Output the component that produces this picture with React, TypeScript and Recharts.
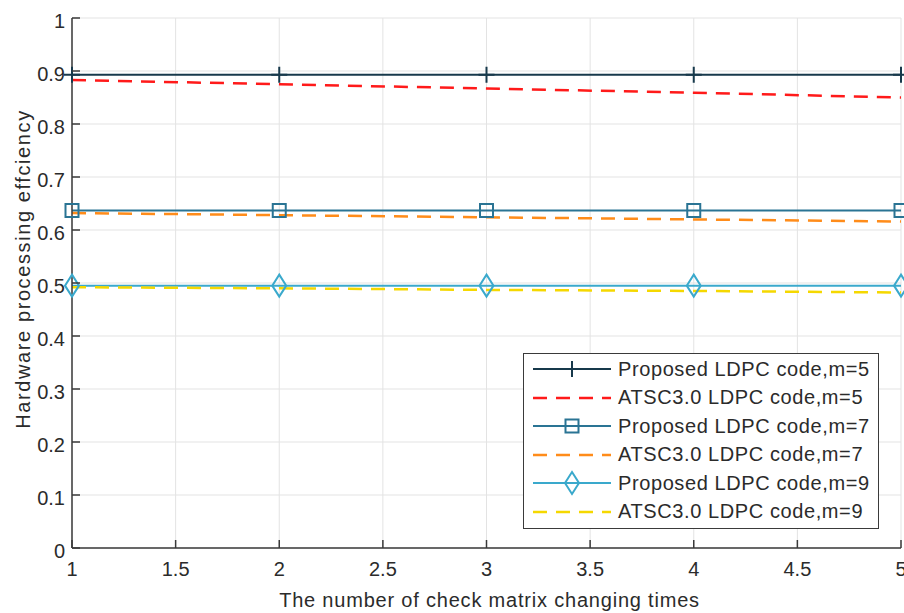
import { LineChart, Line, XAxis, YAxis, CartesianGrid, Legend } from 'recharts';

const xs = [1, 2, 3, 4, 5];
const proposedM5 = [0.893, 0.893, 0.893, 0.893, 0.893];
const atscM5 = [0.883, 0.875, 0.867, 0.859, 0.85];
const proposedM7 = [0.637, 0.637, 0.637, 0.637, 0.637];
const atscM7 = [0.632, 0.628, 0.624, 0.62, 0.616];
const proposedM9 = [0.495, 0.495, 0.495, 0.495, 0.495];
const atscM9 = [0.492, 0.49, 0.487, 0.485, 0.482];

const xTicks = [1, 1.5, 2, 2.5, 3, 3.5, 4, 4.5, 5];
const yTicks = [0, 0.1, 0.2, 0.3, 0.4, 0.5, 0.6, 0.7, 0.8, 0.9, 1];

const data = xs.map((x, i) => ({
  x,
  p5: proposedM5[i],
  a5: atscM5[i],
  p7: proposedM7[i],
  a7: atscM7[i],
  p9: proposedM9[i],
  a9: atscM9[i],
}));

const FONT = '"Liberation Sans", Arial, sans-serif';
const TEXT = '#2b2b2b';
const FRAME = '#3a3a3a';

const C_P5 = '#17394b';
const C_P7 = '#2a7494';
const C_P9 = '#3aa9cc';
const C_A5 = '#ff1a1a';
const C_A7 = '#ff8c1a';
const C_A9 = '#f5d800';

type Marker = 'plus' | 'square' | 'diamond' | 'none';

function markerPath(kind: Marker, cx: number, cy: number) {
  if (kind === 'plus') return `M${cx},${cy - 8}V${cy + 8}M${cx - 8},${cy}H${cx + 8}`;
  if (kind === 'square') return `M${cx - 6.5},${cy - 6.5}h13v13h-13Z`;
  if (kind === 'diamond') return `M${cx},${cy - 11}L${cx + 7},${cy}L${cx},${cy + 11}L${cx - 7},${cy}Z`;
  return '';
}

function dotFor(kind: Marker, color: string) {
  return (props: any) => (
    <path
      key={`${kind}-${props.index}`}
      d={markerPath(kind, props.cx, props.cy)}
      fill="none"
      stroke={color}
      strokeWidth={2}
    />
  );
}

const XTickBottom = (props: any) => {
  const { x, y, payload } = props;
  return (
    <g>
      <line x1={x} y1={y} x2={x} y2={y - 8} stroke={FRAME} strokeWidth={1.5} />
      <text x={x} y={y + 28} textAnchor="middle" fontSize={20} fill={TEXT} fontFamily={FONT}>
        {payload.value}
      </text>
    </g>
  );
};

const XTickTop = (props: any) => {
  const { x, y } = props;
  return <line x1={x} y1={y} x2={x} y2={y + 8} stroke={FRAME} strokeWidth={1.5} />;
};

const YTickLeft = (props: any) => {
  const { x, y, payload } = props;
  return (
    <g>
      <line x1={x} y1={y} x2={x + 8} y2={y} stroke={FRAME} strokeWidth={1.5} />
      <text x={x - 7} y={y + 10} textAnchor="end" fontSize={20} fill={TEXT} fontFamily={FONT}>
        {payload.value}
      </text>
    </g>
  );
};

const YTickRight = (props: any) => {
  const { x, y } = props;
  return <line x1={x} y1={y} x2={x - 8} y2={y} stroke={FRAME} strokeWidth={1.5} />;
};

const legendItems: { label: string; color: string; dashed: boolean; marker: Marker }[] = [
  { label: 'Proposed LDPC code,m=5', color: C_P5, dashed: false, marker: 'plus' },
  { label: 'ATSC3.0 LDPC code,m=5', color: C_A5, dashed: true, marker: 'none' },
  { label: 'Proposed LDPC code,m=7', color: C_P7, dashed: false, marker: 'square' },
  { label: 'ATSC3.0 LDPC code,m=7', color: C_A7, dashed: true, marker: 'none' },
  { label: 'Proposed LDPC code,m=9', color: C_P9, dashed: false, marker: 'diamond' },
  { label: 'ATSC3.0 LDPC code,m=9', color: C_A9, dashed: true, marker: 'none' },
];

const LegendBox = () => (
  <div
    style={{
      width: 354,
      height: 173,
      border: `1.5px solid ${FRAME}`,
      background: '#fff',
      boxSizing: 'content-box',
      paddingTop: 1,
    }}
  >
    {legendItems.map((it) => (
      <div key={it.label} style={{ display: 'flex', alignItems: 'center', height: 28.5 }}>
        <svg width={94} height={28} style={{ flex: 'none' }}>
          <line
            x1={9}
            y1={14}
            x2={87}
            y2={14}
            stroke={it.color}
            strokeWidth={it.dashed ? 2.5 : 2}
            strokeDasharray={it.dashed ? '14 9' : undefined}
          />
          {it.marker !== 'none' && (
            <path d={markerPath(it.marker, 48, 14)} fill="none" stroke={it.color} strokeWidth={2} />
          )}
        </svg>
        <span
          style={{ fontFamily: FONT, fontSize: 20, letterSpacing: 0.6, color: TEXT, whiteSpace: 'nowrap' }}
        >
          {it.label}
        </span>
      </div>
    ))}
  </div>
);

export default function App() {
  return (
    <div style={{ position: 'absolute', left: 0, top: 0, background: '#fff' }}>
      <LineChart width={904} height={613} data={data} margin={{ top: 18, right: 3, bottom: 0, left: 10 }}>
        <CartesianGrid stroke="#e3e3e3" strokeWidth={1} />
        <XAxis
          dataKey="x"
          type="number"
          domain={[1, 5]}
          ticks={xTicks}
          height={65}
          tickSize={0}
          tickMargin={0}
          tickLine={false}
          axisLine={{ stroke: FRAME, strokeWidth: 1.5 }}
          tick={<XTickBottom />}
          interval={0}
          label={{
            content: (p: any) => {
              const vb = p.viewBox;
              return (
                <text
                  x={vb.x + vb.width / 2 + 3}
                  y={607}
                  textAnchor="middle"
                  fontSize={20}
                  letterSpacing={0.8}
                  fill={TEXT}
                  fontFamily={FONT}
                >
                  The number of check matrix changing times
                </text>
              );
            },
          }}
        />
        <XAxis
          xAxisId="top"
          orientation="top"
          dataKey="x"
          type="number"
          domain={[1, 5]}
          ticks={xTicks}
          height={0}
          tickSize={0}
          tickMargin={0}
          tickLine={false}
          axisLine={{ stroke: FRAME, strokeWidth: 1.5 }}
          tick={<XTickTop />}
          interval={0}
        />
        <YAxis
          type="number"
          domain={[0, 1]}
          ticks={yTicks}
          width={62}
          tickSize={0}
          tickMargin={0}
          tickLine={false}
          axisLine={{ stroke: FRAME, strokeWidth: 1.5 }}
          tick={<YTickLeft />}
          interval={0}
          label={{
            content: (p: any) => {
              const vb = p.viewBox;
              const cx = vb.x + 13;
              const cy = vb.y + vb.height / 2 - 14;
              return (
                <text
                  x={cx}
                  y={cy}
                  transform={`rotate(-90 ${cx} ${cy})`}
                  textAnchor="middle"
                  dominantBaseline="central"
                  fontSize={20}
                  letterSpacing={1.6}
                  fill={TEXT}
                  fontFamily={FONT}
                >
                  Hardware processing effciency
                </text>
              );
            },
          }}
        />
        <YAxis
          yAxisId="right"
          orientation="right"
          type="number"
          domain={[0, 1]}
          ticks={yTicks}
          width={0}
          tickSize={0}
          tickMargin={0}
          tickLine={false}
          axisLine={{ stroke: FRAME, strokeWidth: 1.5 }}
          tick={<YTickRight />}
          interval={0}
        />
        <Legend
          layout="vertical"
          align="center"
          verticalAlign="middle"
          wrapperStyle={{ left: 523, top: 353, width: 'auto' }}
          content={() => <LegendBox />}
        />
        <Line dataKey="p5" stroke={C_P5} strokeWidth={2} dot={dotFor('plus', C_P5)} isAnimationActive={false} />
        <Line dataKey="a5" stroke={C_A5} strokeWidth={2.5} strokeDasharray="14 9" dot={false} isAnimationActive={false} />
        <Line dataKey="p7" stroke={C_P7} strokeWidth={2} dot={dotFor('square', C_P7)} isAnimationActive={false} />
        <Line dataKey="a7" stroke={C_A7} strokeWidth={2.5} strokeDasharray="14 9" dot={false} isAnimationActive={false} />
        <Line dataKey="p9" stroke={C_P9} strokeWidth={2} dot={dotFor('diamond', C_P9)} isAnimationActive={false} />
        <Line dataKey="a9" stroke={C_A9} strokeWidth={2.5} strokeDasharray="14 9" dot={false} isAnimationActive={false} />
      </LineChart>
    </div>
  );
}
